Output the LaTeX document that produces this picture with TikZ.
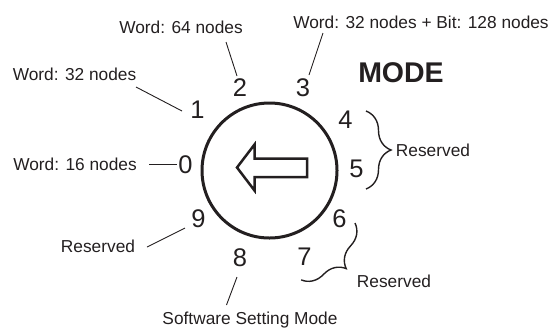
\documentclass[tikz,border=0pt]{standalone}
\usepackage{fontspec}
\setmainfont{Liberation Sans}
\usetikzlibrary{decorations.pathreplacing}
\definecolor{ink}{HTML}{231F20}
\tikzset{
  lbl/.style={inner sep=0pt, anchor=base, text=ink, font=\fontsize{17.3bp}{20bp}\selectfont},
  digit/.style={inner sep=0pt, anchor=base, text=ink, font=\fontsize{25.5bp}{28bp}\selectfont},
  leader/.style={draw=ink, line width=0.9bp},
  bracestyle/.style={draw=ink, line width=1.4bp, decorate, decoration={brace, amplitude=25bp}},
  dial/.style={draw=ink, line width=3bp},
  arrowshape/.style={draw=ink, line width=2.5bp, line join=miter}
}
\begin{document}
\begin{tikzpicture}[x=1bp, y=-1bp]
\useasboundingbox (0,0) rectangle (552,328);
% dial
\node[dial, circle, minimum size=135bp, inner sep=0pt] (dialc) at (269.5,170.5) {};
\draw[arrowshape] (237,167.5) coordinate (tip) -- (254.5,144.5) -- (254.5,158.5) -- (307,158.5) -- (307,177) -- (254.5,177) -- (254.5,190.5) -- cycle;
% digits
\node[digit] (d0) at (185.5,173) {0};
\node[digit] (d1) at (197.5,118) {1};
\node[digit] (d2) at (240,96.5) {2};
\node[digit] (d3) at (303,96.5) {3};
\node[digit] (d4) at (345.5,128) {4};
\node[digit] (d5) at (356.5,177) {5};
\node[digit] (d6) at (339.5,227) {6};
\node[digit] (d7) at (304.5,265) {7};
\node[digit] (d8) at (240,266) {8};
\node[digit] (d9) at (198.5,227) {9};
% labels
\node[lbl] (w64) at (181,33) {Word: 64 nodes};
\node[lbl] (w32) at (74.5,80) {Word: 32 nodes};
\node[lbl] (w16) at (75,170) {Word: 16 nodes};
\node[lbl] (wbit) at (421,28) {Word: 32 nodes + Bit: 128 nodes};
\node[inner sep=0pt, anchor=base, text=ink, font=\fontsize{28.5bp}{32bp}\selectfont\bfseries] (mode) at (401,82) {MODE};
\node[lbl] (r45) at (433,156.5) {Reserved};
\node[lbl] (r9) at (98,252.5) {Reserved};
\node[lbl] (r67) at (394,287) {Reserved};
\node[lbl] (soft) at (250,324) {Software Setting Mode};
% leader end points
\coordinate (a1) at (136,87);   \coordinate (b1) at (182,111);
\coordinate (a2) at (226,42);   \coordinate (b2) at (237,76);
\coordinate (a3) at (323,33);   \coordinate (b3) at (309,75);
\coordinate (a0) at (149,164);  \coordinate (b0) at (177,164);
\coordinate (a9) at (147,247);  \coordinate (b9) at (185,228);
\coordinate (a8) at (237,277);  \coordinate (b8) at (226.5,305);
\draw[leader] (a1) -- (b1);
\draw[leader] (a2) -- (b2);
\draw[leader] (a3) -- (b3);
\draw[leader] (a0) -- (b0);
\draw[leader] (a9) -- (b9);
\draw[leader] (a8) -- (b8);
% braces
\coordinate (t45) at (366,111); \coordinate (u45) at (366,189);
\coordinate (t67) at (355,223); \coordinate (u67) at (301,280);
\draw[bracestyle] (t45) -- (u45);
\draw[bracestyle] (t67) -- (u67);
\end{tikzpicture}
\end{document}
